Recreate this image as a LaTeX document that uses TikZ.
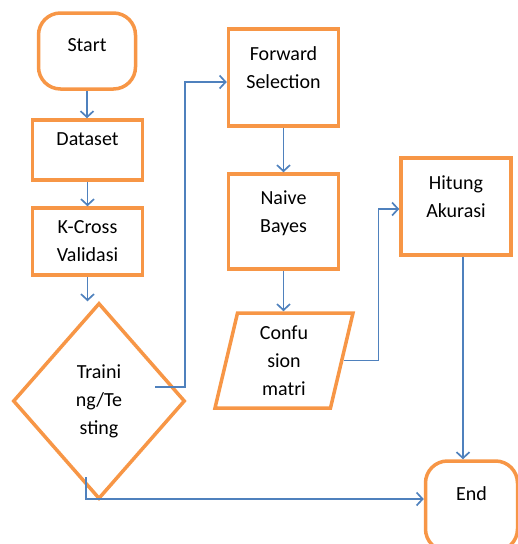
\documentclass[tikz,border=0pt]{standalone}
\usepackage{fontspec}
\setmainfont{Carlito}
\usetikzlibrary{arrows.meta,shapes.geometric}
\definecolor{boxorange}{HTML}{F79646}
\definecolor{lineblue}{HTML}{4F81BD}
\tikzset{
  fcnode/.style = {align=center, draw=boxorange, line width=3.5pt,
    font=\fontsize{20}{28}\selectfont},
  fc_term/.style = {fcnode, rectangle, rounded corners=22pt,
    minimum width=97pt, minimum height=76pt},% terminal, mulai/selesai
  fc_proc/.style = {fcnode, rectangle, minimum width=110pt},% proses
  fc_dec/.style = {fcnode, diamond, minimum width=172pt,
    minimum height=196pt},% keputusan
  fc_io/.style = {fcnode, trapezium, trapezium left angle=73.6,
    trapezium right angle=106.4, trapezium stretches body,
    minimum width=138pt, minimum height=95pt},% data input/output
  link/.style = {draw=lineblue, line width=1.7pt}
}

\begin{document}
\begin{tikzpicture}[->,>={Straight Barb[length=6pt,width=13pt]},
  x=1pt, y=-1pt]
\useasboundingbox (0,0) rectangle (518,544);
% kolom kiri
\node [fc_term] (start) at (87,51) {Start\\[-17pt]\mbox{}};
\node [fc_proc, minimum height=60pt] (data) at (87.5,150) {Dataset\\[-7pt]\mbox{}};
\node [fc_proc, minimum height=67pt] (kcv) at (87.5,241.5) {K-Cross\\Validasi};
\node [fc_dec] (tt) at (99,401) {Traini\\ng/Te\\sting};
% kolom tengah
\node [fc_proc, minimum height=97pt] (fs) at (283.5,77.5) {Forward\\Selection\\[-8pt]\mbox{}};
\node [fc_proc, minimum height=95pt] (nb) at (283.5,221.5) {Naive\\Bayes\\[-9pt]\mbox{}};
\node [fc_io] (cm) at (284,360.5) {Confu\\sion\\matri};
% kolom kanan
\node [fc_proc, minimum height=97pt] (ha) at (456,206.5) {Hitung\\Akurasi\\[-8pt]\mbox{}};
\node [fc_term, minimum width=92pt, minimum height=90pt] (stop) at (471.5,506) {End\\[-3pt]\mbox{}};

\coordinate (ttout) at (155,387);
\coordinate (ttdown) at (86,477);

\draw [link] (start.south) -- (start.south |- data.north);
\draw [link] (data.south) -- (data.south |- kcv.north);
\draw [link] (kcv.south) -- (kcv.south |- tt.north);
\draw [link] (ttout) -- ++(30,0) |- ([yshift=-4.5pt]fs.west);
\draw [link] (fs.south) -- (fs.south |- nb.north);
\draw [link] (nb.south) -- (nb.south |- cm.north);
\draw [link] (cm.east) -- ++(35,0) |- ([yshift=-2.5pt]ha.west);
\draw [link] ([xshift=7pt]ha.south) -- ([xshift=7pt]ha.south |- stop.north);
\draw [link] (ttdown) |- ([yshift=7pt]stop.west);
\end{tikzpicture}
\end{document}
